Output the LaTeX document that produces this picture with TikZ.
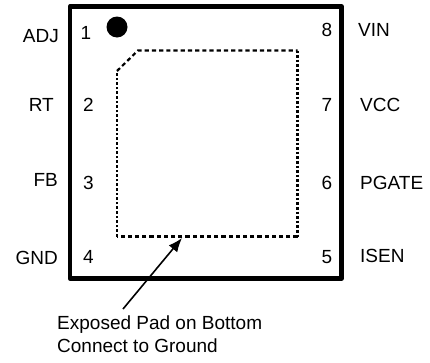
\documentclass[tikz,border=0pt]{standalone}
\usepackage{fontspec}
\setmainfont{Liberation Sans}
\usetikzlibrary{arrows.meta}
\tikzset{
  lbl/.style={inner sep=0pt,font=\fontsize{19}{22}\selectfont,text=black},
  pinl/.style={lbl,anchor=base east},
  pinr/.style={lbl,anchor=base west},
  pinn/.style={lbl,anchor=base},
  pkg/.style={draw=black,line width=4.8pt,line join=round},
  hdash/.style={line width=2.2pt,dash pattern=on 4.2pt off 3pt},
  vdash/.style={line width=2.4pt,dash pattern=on 2.6pt off 2pt},
  lead/.style={line width=1.6pt,-{Latex[length=14pt,width=11pt]}}
}
\begin{document}
\begin{tikzpicture}[x=1pt,y=-1pt]
\useasboundingbox (0,0) rectangle (430,362);
\draw[pkg] (70,6.5) rectangle (341.5,278.5);
\fill (117,27) circle (10.5);
\coordinate (tl) at (138,50.5);
\coordinate (tr) at (297.5,50.5);
\coordinate (br) at (297.5,236.5);
\coordinate (bl) at (117,236.5);
\coordinate (cl) at (117,71);
\draw[hdash] (cl) -- (tl) -- (tr);
\draw[vdash] (tr) -- (br);
\draw[hdash] (br) -- (bl);
\draw[vdash] (bl) -- (cl);
\coordinate (tip) at (182,238);
\coordinate (tail) at (123,309);
\draw[lead] (tail) -- (tip);
\node[pinl] (adj) at (59,42.5) {ADJ};
\node[pinl] (rt) at (54,111) {RT};
\node[pinl] (fb) at (58,186.5) {FB};
\node[pinl] (gnd) at (58,264) {GND};
\node[pinn] (n1) at (86,39) {1};
\node[pinn] (n2) at (88.5,111) {2};
\node[pinn] (n3) at (88.5,189) {3};
\node[pinn] (n4) at (88.5,263.5) {4};
\node[pinn] (n8) at (327,36.5) {8};
\node[pinn] (n7) at (327,111) {7};
\node[pinn] (n6) at (327,189) {6};
\node[pinn] (n5) at (327,263) {5};
\node[pinr] (vin) at (358,36) {VIN};
\node[pinr] (vcc) at (360,111) {VCC};
\node[pinr] (pgate) at (360,189) {PGATE};
\node[pinr] (isen) at (360,262) {ISEN};
\node[pinr] (cap1) at (57,329) {Exposed Pad on Bottom};
\node[pinr] (cap2) at (57,352) {Connect to Ground};
\end{tikzpicture}
\end{document}
